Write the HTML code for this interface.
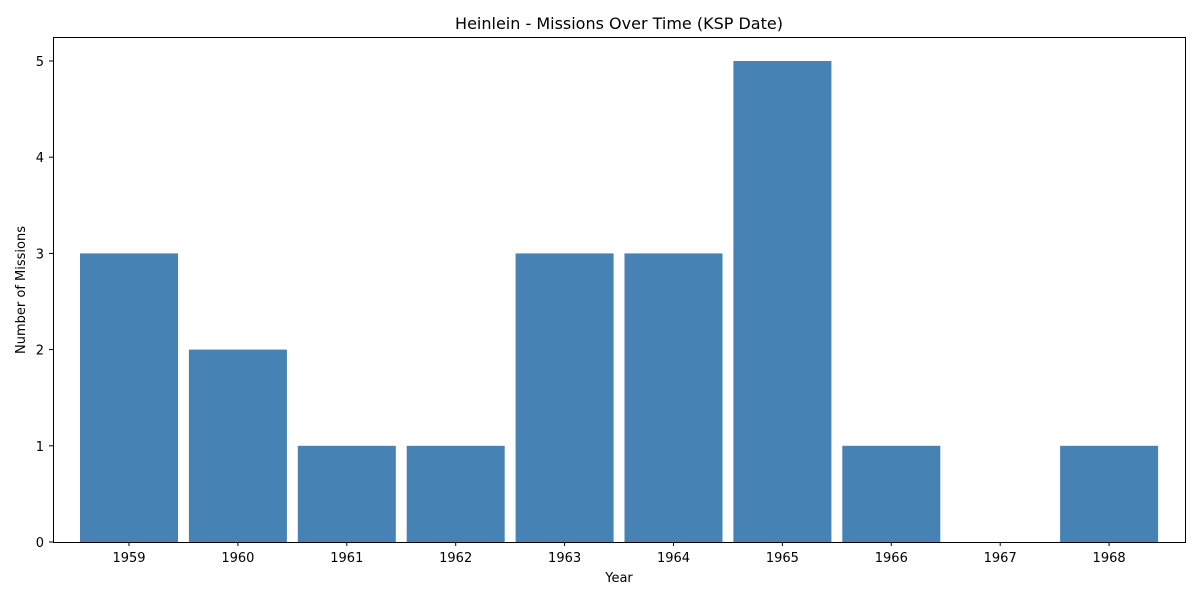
<!DOCTYPE html>
<html><head><meta charset="utf-8"><style>
body{margin:0;background:#fff;font-family:"Liberation Sans","DejaVu Sans",sans-serif;}
svg text{font-family:"DejaVu Sans","Liberation Sans",sans-serif;}
</style></head><body>
<svg id="chart" width="1200" height="600">
<text x="619" y="29" text-anchor="middle" font-size="16">Heinlein - Missions Over Time (KSP Date)</text>
<g id="bars"></g>
<rect x="53.5" y="37.5" width="1132" height="505" fill="none" stroke="#000" stroke-width="1"/>
<g id="ticks" font-size="13"></g>
<text x="619" y="582" text-anchor="middle" font-size="13">Year</text>
<text transform="translate(25,290) rotate(-90)" text-anchor="middle" font-size="13">Number of Missions</text>
</svg>
<script>
const years=[1959,1960,1961,1962,1963,1964,1965,1966,1967,1968];
const missions=[3,2,1,1,3,3,5,1,0,1];
const yTicks=[0,1,2,3,4,5];
const NS="http://www.w3.org/2000/svg";
const xs=v=>129+(v-1959)*108.9;
const ys=v=>542-v*96.2;
const bars=document.getElementById('bars'),ticks=document.getElementById('ticks');
years.forEach((yr,i)=>{
  const r=document.createElementNS(NS,'rect');
  r.setAttribute('x',xs(yr)-49);r.setAttribute('width',98);
  r.setAttribute('y',ys(missions[i]));r.setAttribute('height',ys(0)-ys(missions[i]));
  r.setAttribute('fill','#4682b4');
  
  
  bars.appendChild(r);
  const l=document.createElementNS(NS,'line');
  l.setAttribute('x1',xs(yr));l.setAttribute('x2',xs(yr));l.setAttribute('y1',542);l.setAttribute('y2',546);l.setAttribute('stroke','#000');
  ticks.appendChild(l);
  const t=document.createElementNS(NS,'text');
  t.setAttribute('x',xs(yr));t.setAttribute('y',562);t.setAttribute('text-anchor','middle');t.textContent=yr;
  
  
  ticks.appendChild(t);
});
yTicks.forEach(v=>{
  const l=document.createElementNS(NS,'line');
  l.setAttribute('x1',49);l.setAttribute('x2',53);l.setAttribute('y1',ys(v));l.setAttribute('y2',ys(v));l.setAttribute('stroke','#000');
  ticks.appendChild(l);
  const t=document.createElementNS(NS,'text');
  t.setAttribute('x',44);t.setAttribute('y',ys(v)+5);t.setAttribute('text-anchor','end');t.textContent=v;
  
  
  ticks.appendChild(t);
});
</script>
</body></html>
